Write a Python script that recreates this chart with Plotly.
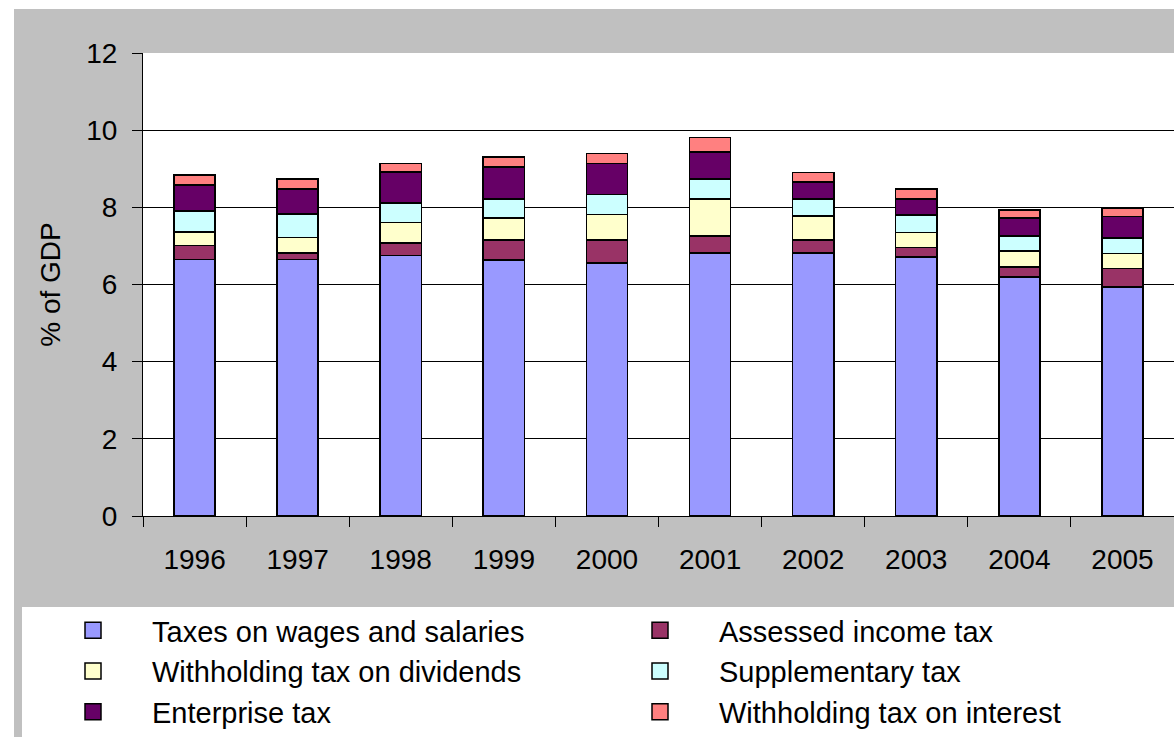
import plotly.graph_objects as go

# Tax revenue components, % of GDP
years = ["1996", "1997", "1998", "1999", "2000", "2001", "2002", "2003", "2004", "2005"]
wages_salaries = [6.65, 6.65, 6.75, 6.64, 6.55, 6.81, 6.81, 6.71, 6.20, 5.94]
assessed_income = [0.36, 0.16, 0.32, 0.52, 0.61, 0.45, 0.35, 0.25, 0.25, 0.47]
withholding_dividends = [0.35, 0.41, 0.54, 0.56, 0.65, 0.96, 0.61, 0.39, 0.42, 0.39]
supplementary = [0.55, 0.60, 0.50, 0.50, 0.52, 0.51, 0.45, 0.45, 0.39, 0.41]
enterprise = [0.67, 0.66, 0.81, 0.82, 0.81, 0.71, 0.43, 0.42, 0.46, 0.55]
withholding_interest = [0.26, 0.25, 0.22, 0.26, 0.26, 0.37, 0.25, 0.26, 0.21, 0.22]

series = [
    ("Taxes on wages and salaries", wages_salaries, "#9999FF"),
    ("Assessed income tax", assessed_income, "#993366"),
    ("Withholding tax on dividends", withholding_dividends, "#FFFFCC"),
    ("Supplementary tax", supplementary, "#CCFFFF"),
    ("Enterprise tax", enterprise, "#660066"),
    ("Withholding tax on interest", withholding_interest, "#FF8080"),
]

FONT = "Liberation Sans, Arial, sans-serif"
W, H = 1174, 738
L, R, T, B = 143, 0, 53, 222
pw, ph = W - L - R, H - T - B


def px_x(px):
    return (px - L) / pw


def px_y(py):
    return (H - B - py) / ph


fig = go.Figure()

for name, vals, color in series:
    fig.add_trace(go.Bar(
        x=years, y=vals, name=name, showlegend=False,
        marker=dict(color=color, line=dict(color="black", width=1.6)),
    ))

# Legend entries with larger square swatches
for name, vals, color in series:
    fig.add_trace(go.Scatter(
        x=[None], y=[None], mode="markers", name=name,
        marker=dict(symbol="square", size=17, color=color,
                    line=dict(color="black", width=1.5)),
    ))

shapes = [
    # grey chart frame
    dict(type="rect", xref="paper", yref="paper", layer="below",
         x0=px_x(14), x1=px_x(1174), y0=px_y(737), y1=px_y(9),
         fillcolor="#C0C0C0", line=dict(width=0)),
    # white plotting area
    dict(type="rect", xref="paper", yref="paper", layer="below",
         x0=0, x1=1, y0=0, y1=1, fillcolor="white", line=dict(width=0)),
    # white legend panel
    dict(type="rect", xref="paper", yref="paper", layer="below",
         x0=px_x(22), x1=px_x(1174), y0=px_y(737), y1=px_y(607),
         fillcolor="white", line=dict(width=0)),
]

fig.update_layout(
    width=W, height=H,
    margin=dict(l=L, r=R, t=T, b=B, autoexpand=False),
    paper_bgcolor="white",
    plot_bgcolor="white",
    barmode="stack",
    bargap=0.6,
    font=dict(family=FONT, color="black"),
    shapes=shapes,
    showlegend=True,
    legend=dict(
        orientation="h",
        x=px_x(34), y=px_y(605), xanchor="left", yanchor="top",
        bgcolor="rgba(0,0,0,0)",
        font=dict(size=29, family=FONT, color="black"),
        entrywidth=444, entrywidthmode="pixels",
        itemwidth=108,
        traceorder="normal",
    ),
    xaxis=dict(
        type="category",
        range=[-0.5, 9.5],
        showline=True, linecolor="black", linewidth=1,
        ticks="outside", ticklen=10, tickcolor="black", tickwidth=1,
        tickson="boundaries",
        showgrid=False,
        tickfont=dict(size=28, family=FONT),
        ticklabelstandoff=18,
    ),
    yaxis=dict(
        range=[0, 12], dtick=2,
        showline=True, linecolor="black", linewidth=1,
        ticks="outside", ticklen=10, tickcolor="black", tickwidth=1,
        showgrid=True, gridcolor="black", gridwidth=1,
        zeroline=False,
        tickfont=dict(size=28, family=FONT),
        ticklabelstandoff=9,
        title=dict(text="% of GDP", font=dict(size=28, family=FONT), standoff=17),
        automargin=False,
    ),
)

fig.write_html("out.html")
